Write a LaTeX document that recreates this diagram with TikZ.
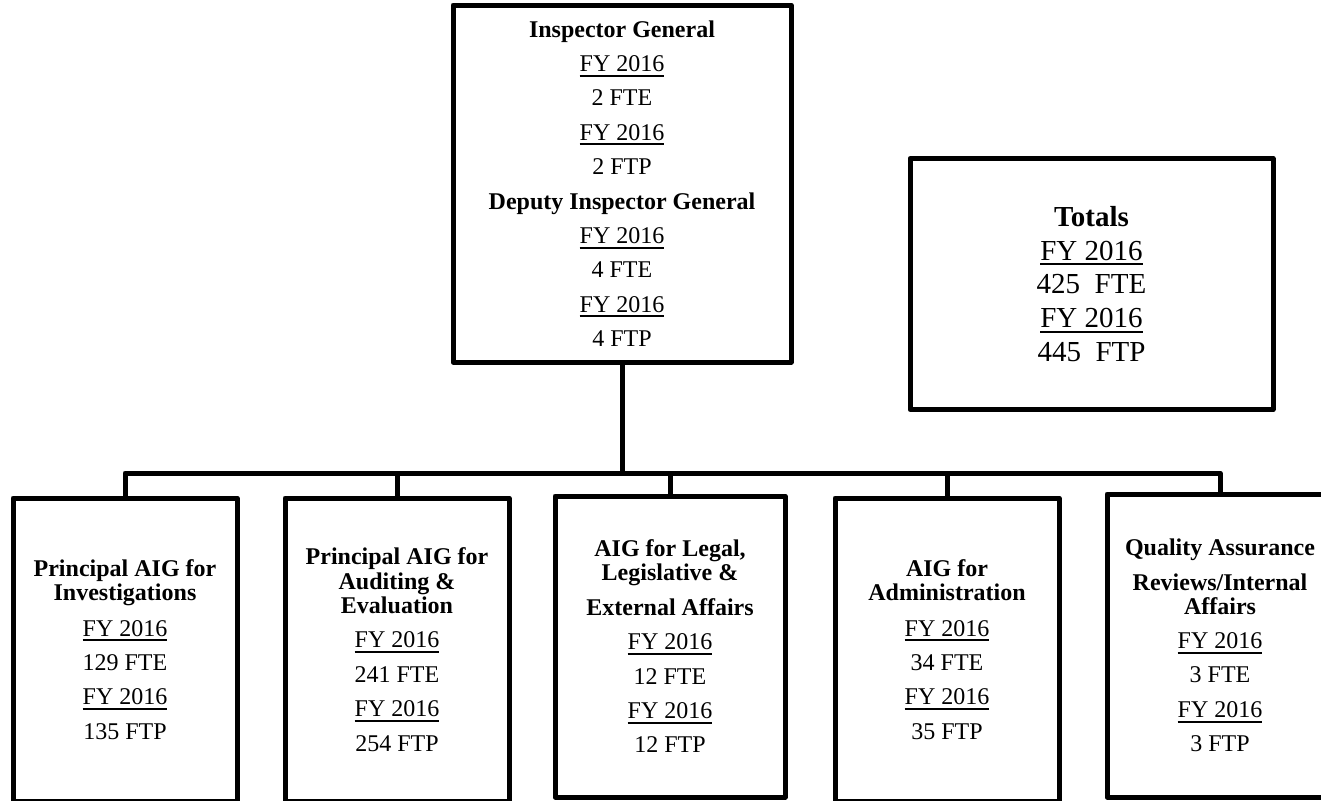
\documentclass[tikz,border=0pt]{standalone}
\usepackage{fontspec}
\setmainfont{Liberation Serif}
\newsavebox\ulbox
\newcommand\ulfy[1]{\sbox\ulbox{#1}\rlap{\rule[-2.6pt]{\wd\ulbox}{1pt}}\usebox\ulbox}
\tikzset{
  orgbox/.style={draw, line width=2.5pt, line join=round, align=center, inner sep=0pt,
    font=\fontsize{12}{17.2}\selectfont},
  conn/.style={line width=2.5pt, line join=round},
}
\begin{document}
\begin{tikzpicture}[x=0.5pt,y=-0.5pt]
\useasboundingbox (0,0) rectangle (1321,800);
\clip (0,0) rectangle (1321,800);

\node[orgbox, minimum width=169pt, minimum height=178.5pt] (top) at (622,183.5)
  {\textbf{Inspector General}\\ \ulfy{FY 2016}\\ 2 FTE\\ \ulfy{FY 2016}\\ 2 FTP\\
   \textbf{Deputy Inspector General}\\ \ulfy{FY 2016}\\ 4 FTE\\ \ulfy{FY 2016}\\ 4 FTP};

\node[orgbox, minimum width=181.5pt, minimum height=125.5pt,
  font=\fontsize{14.5}{16.9}\selectfont] (tot) at (1091.5,284)
  {\textbf{Totals}\\ \ulfy{FY 2016}\\ 425\ \ FTE\\ \ulfy{FY 2016}\\ 445\ \ FTP};

\node[orgbox, minimum width=112pt, minimum height=151.5pt] (b1) at (125,649.5)
  {\textbf{Principal AIG for}\\[-5.2pt] \textbf{Investigations}\\[0.6pt] \ulfy{FY 2016}\\ 129 FTE\\ \ulfy{FY 2016}\\ 135 FTP};

\node[orgbox, minimum width=112pt, minimum height=151.5pt] (b2) at (397,649.5)
  {\textbf{Principal AIG for}\\[-5pt] \textbf{Auditing \&}\\[-5pt] \textbf{Evaluation}\\ \ulfy{FY 2016}\\ 241 FTE\\ \ulfy{FY 2016}\\ 254 FTP};

\node[orgbox, minimum width=115pt, minimum height=150.5pt] (b3) at (670,646.5)
  {\textbf{AIG for Legal,}\\[-5.2pt] \textbf{Legislative \&}\\ \textbf{External Affairs}\\ \ulfy{FY 2016}\\ 12 FTE\\ \ulfy{FY 2016}\\ 12 FTP};

\node[orgbox, minimum width=112pt, minimum height=151.5pt] (b4) at (947,649.5)
  {\textbf{AIG for}\\[-5.2pt] \textbf{Administration}\\[0.6pt] \ulfy{FY 2016}\\ 34 FTE\\ \ulfy{FY 2016}\\ 35 FTP};

\node[orgbox, minimum width=113pt, minimum height=151.5pt] (b5) at (1220,645.5)
  {\textbf{Quality Assurance}\\ \textbf{Reviews/Internal}\\[-5.2pt] \textbf{Affairs}\\ \ulfy{FY 2016}\\ 3 FTE\\ \ulfy{FY 2016}\\ 3 FTP};

\coordinate (bus) at (622,473);
\draw[conn] (top.south) -- (bus);
\draw[conn] (bus) -| (b1.north);
\draw[conn] (bus) -| (b2.north);
\draw[conn] (bus) -| (b3.north);
\draw[conn] (bus) -| (b4.north);
\draw[conn] (bus) -| (b5.north);
\end{tikzpicture}
\end{document}
